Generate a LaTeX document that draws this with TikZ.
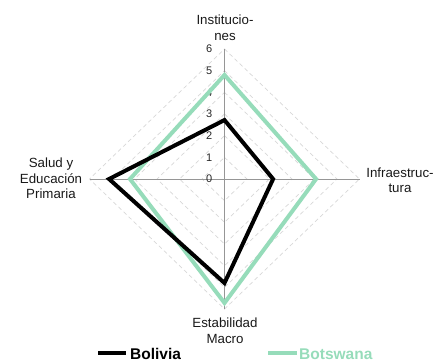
\documentclass[tikz,border=0pt]{standalone}
\usepackage{fontspec}
\setmainfont{Liberation Sans}
\definecolor{botsgreen}{RGB}{150,220,186}
\definecolor{gridgray}{RGB}{215,215,215}
\definecolor{axisgray}{RGB}{150,150,150}
\begin{document}
\begin{tikzpicture}[x=1pt,y=-1pt,
  gridline/.style={gridgray,dashed,line width=0.7pt,dash pattern=on 4pt off 3pt},
  axisline/.style={axisgray,line width=0.9pt},
  ticklabel/.style={font=\fontsize{11}{12}\selectfont,text=black!85,anchor=east,inner sep=0pt},
  catlabel/.style={font=\fontsize{13.3}{15.5}\selectfont,align=center,inner sep=0pt,text=black!90},
  series/.style={line width=4pt,line join=miter},
  legendtext/.style={font=\fontsize{15.5}{17}\selectfont\bfseries,anchor=west,inner sep=0pt}]
\useasboundingbox (0,0) rectangle (444,360);
\def\cx{224.5}\def\cy{179}
\def\hs{22.5}\def\vs{21.67}
\coordinate (C) at (\cx,\cy);
% grid diamonds
\foreach \k in {1,...,6}{
  \draw[gridline] (\cx,\cy-\k*\vs) -- (\cx+\k*\hs,\cy) -- (\cx,\cy+\k*\vs) -- (\cx-\k*\hs,\cy) -- cycle;
}
% axes
\coordinate (T) at (\cx,\cy-6*\vs);
\coordinate (R) at (\cx+6*\hs,\cy);
\coordinate (B) at (\cx,\cy+6*\vs);
\coordinate (L) at (\cx-6*\hs,\cy);
\draw[axisline] (C) -- (T);
\draw[axisline] (C) -- (R);
\draw[axisline] (C) -- (B);
\draw[axisline] (C) -- (L);
% tick labels
\foreach \k in {0,...,6}{
  \node[ticklabel] (t\k) at (\cx-12,\cy-\k*\vs) {\k};
}
% Botswana
\coordinate (g1) at (\cx,\cy-4.8*\vs);
\coordinate (g2) at (\cx+4.07*\hs,\cy);
\coordinate (g3) at (\cx,\cy+5.72*\vs);
\coordinate (g4) at (\cx-4.2*\hs,\cy);
\draw[series,botsgreen] (g1) -- (g2) -- (g3) -- (g4) -- cycle;
% Bolivia
\coordinate (b1) at (\cx,\cy-2.72*\vs);
\coordinate (b2) at (\cx+2.16*\hs,\cy);
\coordinate (b3) at (\cx,\cy+4.8*\vs);
\coordinate (b4) at (\cx-5.13*\hs,\cy);
\draw[series,black] (b1) -- (b2) -- (b3) -- (b4) -- cycle;
% category labels
\node[catlabel] (inst) at (225,27.5) {Institucio-\\nes};
\node[catlabel] (infra) at (400,180) {Infraestruc-\\tura};
\node[catlabel] (salud) at (51,178.5) {Salud y\\Educación\\Primaria};
\node[catlabel] (estab) at (225,330.5) {Estabilidad\\Macro};
% legend
\coordinate (l1a) at (98,353);
\coordinate (l1b) at (126,353);
\draw[line width=3.5pt,black] (l1a) -- (l1b);
\node[legendtext,text=black] (leg1) at (130,354) {Bolivia};
\coordinate (l2a) at (268,353);
\coordinate (l2b) at (297,353);
\draw[line width=3.5pt,botsgreen] (l2a) -- (l2b);
\node[legendtext,text=botsgreen] (leg2) at (299,354) {Botswana};
\end{tikzpicture}
\end{document}
